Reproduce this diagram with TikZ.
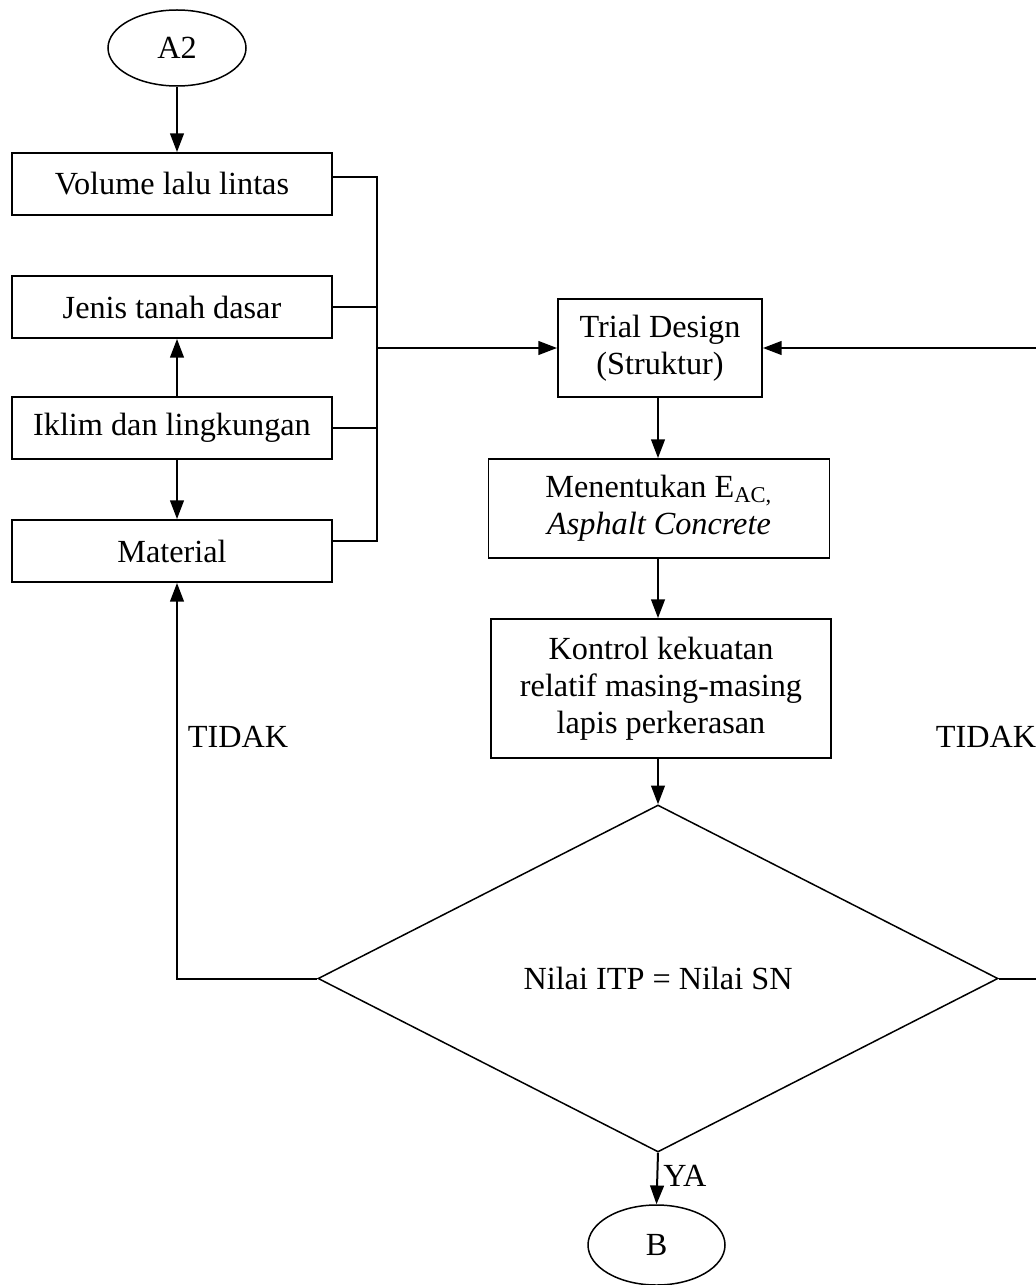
\documentclass[tikz,border=0pt]{standalone}
\usepackage{fontspec}
\setmainfont{Liberation Serif}
\usetikzlibrary{arrows.meta, shapes.geometric, calc}

\begin{document}
\begin{tikzpicture}[x=0.4pt, y=-0.4pt,
  txt/.style={font=\fontsize{12.9}{14.9}\selectfont},
  box/.style={txt, draw, line width=0.75pt, align=center, inner sep=2pt},
  term/.style={txt, draw, ellipse, line width=0.6pt, inner sep=0pt},
  dec/.style={txt, draw, diamond, line width=0.6pt, inner sep=0pt},
  ln/.style={line width=0.7pt},
  arr/.style={line width=0.8pt, -{Triangle[length=7.5pt, width=5.5pt]}}]
  \useasboundingbox (0,0) rectangle (1035,1285);

  % input column
  \node[term, minimum width=55.2pt, minimum height=30.4pt] (a2) at (177,48) {A2};
  \node[box, minimum width=128pt, minimum height=24.8pt] (vol) at (172,184) {Volume lalu lintas};
  \node[box, minimum width=128pt, minimum height=24.8pt] (tanah) at (172,307) {Jenis tanah dasar};
  \node[box, minimum width=128pt, minimum height=24.8pt] (iklim) at (172,428) {Iklim dan lingkungan};
  \node[box, minimum width=128pt, minimum height=24.8pt] (mat) at (172,551) {Material};

  % design column
  \node[box, minimum width=81.6pt, minimum height=39.2pt] (trial) at (660,348) {Trial Design\\(Struktur)};
  \node[box, minimum width=136.4pt, minimum height=39.6pt] (eac) at (659,508.5)
    {Menentukan E\textsubscript{AC,}\\\textit{Asphalt Concrete}};
  \node[box, minimum width=136pt, minimum height=55.6pt] (kontrol) at (661,688.5)
    {Kontrol kekuatan\\relatif masing-masing\\lapis perkerasan};
  \node[dec, minimum width=272pt, minimum height=138.8pt] (cek) at (658,978.5) {Nilai ITP = Nilai SN};
  \node[term, minimum width=54.8pt, minimum height=32pt] (b) at (656.5,1245) {B};

  % collector line
  \coordinate (bus) at (377,348);
  \coordinate (rb) at (1045,978.5);
  \draw[ln] ($(vol.east)+(0,-7)$) -| ($(mat.east -| bus)+(0,-10)$) -- ($(mat.east)+(0,-10)$);
  \draw[ln] (tanah.east) -- (tanah.east -| bus);
  \draw[ln] (iklim.east) -- (iklim.east -| bus);
  \draw[arr] (bus) -- (trial.west);

  % arrows
  \draw[arr] (a2) -- (a2 |- vol.north);
  \draw[arr] (iklim.north -| a2) -- (tanah.south -| a2);
  \draw[arr] (iklim.south -| a2) -- (mat.north -| a2);
  \draw[arr] (trial.south -| cek) -- (eac.north -| cek);
  \draw[arr] (eac.south -| cek) -- (kontrol.north -| cek);
  \draw[arr] (kontrol.south -| cek) -- (cek.north);
  \draw[arr] (cek.south) -- node[txt, right, inner sep=2pt, pos=0.45] {YA} (b.north);
  \draw[arr] (cek.west) -| (mat.south -| a2);
  \draw[arr] (cek.east) -- (rb) |- (trial.east);

  \node[txt] (tidak1) at (238,737) {TIDAK};
  \node[txt] (tidak2) at (986,737) {TIDAK};
\end{tikzpicture}
\end{document}
